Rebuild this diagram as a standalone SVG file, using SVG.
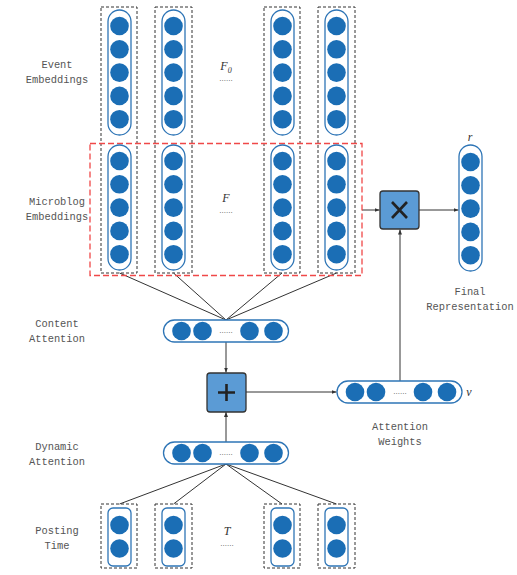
<svg xmlns="http://www.w3.org/2000/svg" width="517" height="575" viewBox="0 0 517 575">
<defs>
<style>
.col{fill:none;stroke:#333;stroke-width:1;stroke-dasharray:3,2}
.pill{fill:#fff;stroke:#2E75B6;stroke-width:1.3}
.dot{fill:#1B6EB5}
.lbl{font-family:"Liberation Mono",monospace;font-size:10.4px;fill:#555;text-anchor:middle}
.math{font-family:"Liberation Serif",serif;font-style:italic;font-size:12px;fill:#333;text-anchor:middle}
.dots{font-family:"Liberation Sans",sans-serif;font-size:8px;fill:#555;text-anchor:middle}
.ln{stroke:#333;stroke-width:1;fill:none}
.op{fill:#5B9BD5;stroke:#333;stroke-width:1.3}
.sym{stroke:#222;stroke-width:2.6;fill:none}
</style>
<marker id="ah" viewBox="0 0 10 10" refX="10" refY="5" markerWidth="5" markerHeight="5" orient="auto">
<path d="M0,1 L10,5 L0,9 z" fill="#333"/>
</marker>
<g id="vec5">
<circle class="dot" cx="0" cy="0" r="9.3"/>
<circle class="dot" cx="0" cy="23.3" r="9.3"/>
<circle class="dot" cx="0" cy="46.6" r="9.3"/>
<circle class="dot" cx="0" cy="69.9" r="9.3"/>
<circle class="dot" cx="0" cy="93.2" r="9.3"/>
</g>
<g id="hvec">
<rect class="pill" x="0" y="0" width="125" height="22" rx="11"/>
<circle class="dot" cx="18" cy="11" r="9.3"/>
<circle class="dot" cx="39" cy="11" r="9.3"/>
<circle class="dot" cx="86" cy="11" r="9.3"/>
<circle class="dot" cx="110" cy="11" r="9.3"/>
</g>
</defs>
<rect width="517" height="575" fill="#fff"/>

<g id="connectors">
<line class="ln" x1="119.5" y1="273" x2="226" y2="320"/>
<line class="ln" x1="173.5" y1="273" x2="226" y2="320"/>
<line class="ln" x1="282" y1="273" x2="226" y2="320"/>
<line class="ln" x1="336.5" y1="273" x2="226" y2="320"/>
<line class="ln" x1="226" y1="464" x2="119.5" y2="504"/>
<line class="ln" x1="226" y1="464" x2="173.5" y2="504"/>
<line class="ln" x1="226" y1="464" x2="282" y2="504"/>
<line class="ln" x1="226" y1="464" x2="336.5" y2="504"/>
<line class="ln" x1="226" y1="342" x2="226" y2="372.5" marker-end="url(#ah)"/>
<line class="ln" x1="226" y1="442" x2="226" y2="412" marker-end="url(#ah)"/>
<line class="ln" x1="246" y1="392" x2="336.5" y2="392" marker-end="url(#ah)"/>
<line class="ln" x1="400" y1="381" x2="400" y2="229.5" marker-end="url(#ah)"/>
<line class="ln" x1="362" y1="210" x2="379.5" y2="210" marker-end="url(#ah)"/>
<line class="ln" x1="419" y1="210" x2="458.5" y2="210" marker-end="url(#ah)"/>
</g>

<g id="event-embeddings">
<rect class="col" x="101" y="7" width="36" height="266"/>
<rect class="col" x="155" y="7" width="37" height="266"/>
<rect class="col" x="264" y="7" width="36" height="266"/>
<rect class="col" x="318" y="7" width="37" height="266"/>
<rect class="pill" x="108" y="10" width="23" height="125" rx="11.5"/>
<rect class="pill" x="162" y="10" width="23" height="125" rx="11.5"/>
<rect class="pill" x="271" y="10" width="23" height="125" rx="11.5"/>
<rect class="pill" x="325" y="10" width="23" height="125" rx="11.5"/>
<use href="#vec5" x="119.5" y="26"/>
<use href="#vec5" x="173.5" y="26"/>
<use href="#vec5" x="282.5" y="26"/>
<use href="#vec5" x="336.5" y="26"/>
<text class="math" x="226" y="70">F<tspan font-size="8" dy="3">0</tspan></text>
<text class="dots" x="226" y="81">......</text>
<text class="lbl" x="57" y="68">Event</text>
<text class="lbl" x="57" y="83">Embeddings</text>
</g>

<g id="microblog-embeddings">
<rect x="90" y="143.5" width="272" height="132" fill="none" stroke="#F04848" stroke-width="1.3" stroke-dasharray="6,3"/>
<rect class="pill" x="108" y="145" width="23" height="125" rx="11.5"/>
<rect class="pill" x="162" y="145" width="23" height="125" rx="11.5"/>
<rect class="pill" x="271" y="145" width="23" height="125" rx="11.5"/>
<rect class="pill" x="325" y="145" width="23" height="125" rx="11.5"/>
<use href="#vec5" x="119.5" y="161"/>
<use href="#vec5" x="173.5" y="161"/>
<use href="#vec5" x="282.5" y="161"/>
<use href="#vec5" x="336.5" y="161"/>
<text class="math" x="226" y="202">F</text>
<text class="dots" x="226" y="213">......</text>
<text class="lbl" x="57" y="205">Microblog</text>
<text class="lbl" x="57" y="220">Embeddings</text>
</g>

<g id="multiply">
<rect class="op" x="380" y="191" width="39" height="38" rx="3"/>
<path class="sym" d="M392,202 L407,218 M407,202 L392,218"/>
</g>

<g id="final-representation">
<rect class="pill" x="459" y="145" width="23" height="126" rx="11.5"/>
<use href="#vec5" x="470.5" y="162"/>
<text class="math" x="470" y="141">r</text>
<text class="lbl" x="470" y="295">Final</text>
<text class="lbl" x="470" y="310">Representation</text>
</g>

<g id="content-attention">
<use href="#hvec" x="163.5" y="320"/>
<text class="dots" x="226" y="333">......</text>
<text class="lbl" x="57" y="327">Content</text>
<text class="lbl" x="57" y="342">Attention</text>
</g>

<g id="plus">
<rect class="op" x="207" y="373" width="39" height="39" rx="3"/>
<path class="sym" d="M226.5,384 L226.5,401 M218,392.5 L235,392.5"/>
</g>

<g id="attention-weights">
<use href="#hvec" x="337" y="381"/>
<text class="dots" x="400" y="394">......</text>
<text class="math" x="469" y="396">v</text>
<text class="lbl" x="400" y="430">Attention</text>
<text class="lbl" x="400" y="445">Weights</text>
</g>

<g id="dynamic-attention">
<use href="#hvec" x="163.5" y="442"/>
<text class="dots" x="226" y="455">......</text>
<text class="lbl" x="57" y="450">Dynamic</text>
<text class="lbl" x="57" y="465">Attention</text>
</g>

<g id="posting-time">
<rect class="col" x="101" y="504" width="36" height="64"/>
<rect class="col" x="155" y="504" width="37" height="64"/>
<rect class="col" x="264" y="504" width="36" height="64"/>
<rect class="col" x="318" y="504" width="37" height="64"/>
<rect class="pill" x="108" y="508" width="23" height="58" rx="5"/>
<rect class="pill" x="162" y="508" width="23" height="58" rx="5"/>
<rect class="pill" x="271" y="508" width="23" height="58" rx="5"/>
<rect class="pill" x="325" y="508" width="23" height="58" rx="5"/>
<circle class="dot" cx="119.5" cy="525" r="9.3"/>
<circle class="dot" cx="119.5" cy="548.5" r="9.3"/>
<circle class="dot" cx="173.5" cy="525" r="9.3"/>
<circle class="dot" cx="173.5" cy="548.5" r="9.3"/>
<circle class="dot" cx="282.5" cy="525" r="9.3"/>
<circle class="dot" cx="282.5" cy="548.5" r="9.3"/>
<circle class="dot" cx="336.5" cy="525" r="9.3"/>
<circle class="dot" cx="336.5" cy="548.5" r="9.3"/>
<text class="math" x="227" y="535">T</text>
<text class="dots" x="227" y="546">......</text>
<text class="lbl" x="57" y="534">Posting</text>
<text class="lbl" x="57" y="549">Time</text>
</g>
</svg>
